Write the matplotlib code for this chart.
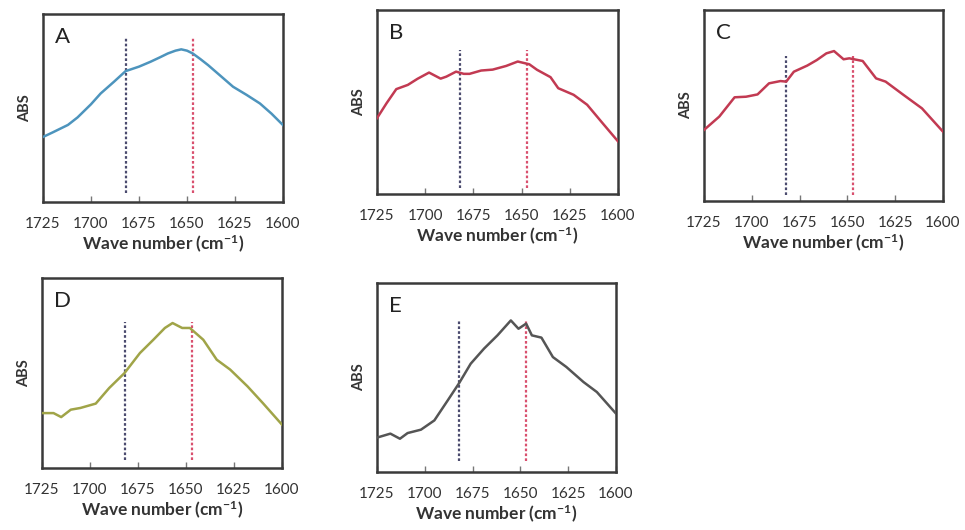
import matplotlib
matplotlib.use("Agg")
import matplotlib.pyplot as plt

# ---------- data (absorbance, normalised to panel height) ----------
wn_a = [1725, 1720, 1712, 1707, 1700, 1695, 1688, 1682, 1675, 1669, 1664, 1660, 1656, 1653,
        1650, 1647, 1643, 1639, 1633, 1626, 1619, 1612, 1606, 1600]
abs_a = [0.346, 0.37, 0.41, 0.45, 0.52, 0.577, 0.64, 0.696, 0.72, 0.746, 0.77, 0.79, 0.805, 0.812,
         0.805, 0.79, 0.76, 0.728, 0.675, 0.613, 0.57, 0.524, 0.47, 0.409]

wn_b = [1725, 1720, 1715, 1709, 1704, 1698, 1692, 1689, 1684, 1680, 1677, 1671, 1665, 1658,
        1652, 1646, 1642, 1635, 1631, 1623, 1616, 1608, 1600]
abs_b = [0.412, 0.494, 0.570, 0.593, 0.626, 0.660, 0.627, 0.638, 0.665, 0.653, 0.653, 0.671,
         0.676, 0.696, 0.720, 0.705, 0.675, 0.635, 0.575, 0.539, 0.485, 0.385, 0.286]

wn_c = [1725, 1717, 1709, 1703, 1697, 1691, 1685, 1682, 1678, 1671, 1666, 1661, 1657, 1652,
        1649, 1642, 1635, 1630, 1621, 1611, 1600]
abs_c = [0.372, 0.442, 0.543, 0.546, 0.558, 0.616, 0.628, 0.625, 0.677, 0.709, 0.738, 0.773,
         0.785, 0.742, 0.747, 0.733, 0.642, 0.625, 0.558, 0.485, 0.363]

wn_d = [1725, 1719, 1715, 1710, 1705, 1697, 1690, 1682, 1674, 1667, 1661, 1657, 1652, 1648,
        1641, 1634, 1627, 1618, 1610, 1600]
abs_d = [0.289, 0.289, 0.268, 0.307, 0.316, 0.339, 0.421, 0.500, 0.605, 0.675, 0.737, 0.763,
         0.737, 0.737, 0.675, 0.570, 0.518, 0.430, 0.342, 0.228]

wn_e = [1725, 1718, 1713, 1709, 1702, 1695, 1688, 1682, 1676, 1669, 1662, 1655, 1651, 1647,
        1644, 1639, 1633, 1626, 1617, 1610, 1600]
abs_e = [0.182, 0.203, 0.176, 0.206, 0.224, 0.273, 0.379, 0.471, 0.573, 0.653, 0.723, 0.802,
         0.758, 0.785, 0.723, 0.711, 0.608, 0.556, 0.476, 0.423, 0.309]

labels = ["A", "B", "C", "D", "E"]
xticks = [1725, 1700, 1675, 1650, 1625, 1600]
marker_lines = [1682, 1647]

# ---------- layout / styles ----------
W, H = 965, 530
rects_px = {  # x0, y0, x1, y1 in pixels (top-left origin)
    "A": (43, 14, 283, 202),
    "B": (377, 10, 618, 194),
    "C": (704, 10, 943, 201),
    "D": (42, 278, 282, 468),
    "E": (377, 283, 616, 472),
}
series = {
    "A": (wn_a, abs_a, "#4d94bd"),
    "B": (wn_b, abs_b, "#c23a52"),
    "C": (wn_c, abs_c, "#c23a52"),
    "D": (wn_d, abs_d, "#a0a448"),
    "E": (wn_e, abs_e, "#555555"),
}
vspan = {"A": (0.05, 0.88), "B": (0.03, 0.78), "C": (0.03, 0.76), "D": (0.04, 0.77), "E": (0.06, 0.80)}

plt.rcParams["font.family"] = ["Lato", "DejaVu Sans"]
plt.rcParams["mathtext.default"] = "regular"

fig = plt.figure(figsize=(W / 100, H / 100), dpi=100)

for lab in labels:
    x0, y0, x1, y1 = rects_px[lab]
    ax = fig.add_axes([x0 / W, 1 - y1 / H, (x1 - x0) / W, (y1 - y0) / H])
    wn, ab, col = series[lab]
    ax.plot(wn, ab, color=col, lw=1.8, zorder=3)

    lo, hi = vspan[lab]
    ax.plot([marker_lines[0]] * 2, [lo, hi], color="#4b4b6e", lw=1.6, ls=(0, (1.2, 1.0)), zorder=2)
    ax.plot([marker_lines[1]] * 2, [lo, hi], color="#d9506e", lw=1.6, ls=(0, (1.2, 1.0)), zorder=2)

    ax.set_xlim(1725, 1600)
    ax.set_ylim(0, 1)
    ax.set_xticks(xticks)
    ax.set_xticklabels([str(t) for t in xticks], fontsize=11, color="#333333")
    ax.tick_params(axis="x", direction="in", length=4, width=1, color="#777777", pad=11)
    ax.set_yticks([])
    for sp in ax.spines.values():
        sp.set_linewidth(1.8)
        sp.set_color("#3a3a3a")

    ax.set_xlabel("Wave number (cm$^{-1}$)", fontsize=12.5, fontweight="bold", color="#333333", labelpad=2)
    ax.set_ylabel("ABS", fontsize=10.5, fontweight="bold", color="#333333", labelpad=8)
    ax.text(0.05, 0.93, lab, transform=ax.transAxes, fontsize=16, va="top", ha="left", color="#222222")

fig.savefig("out.png", dpi=100)
